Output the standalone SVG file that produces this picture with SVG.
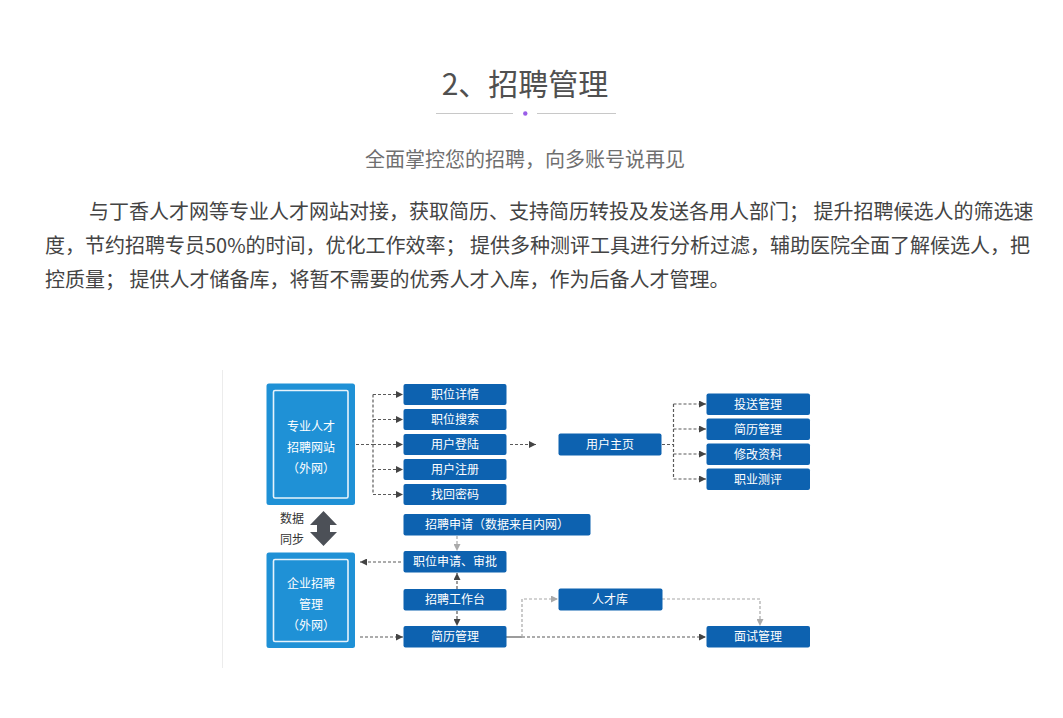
<svg xmlns="http://www.w3.org/2000/svg" width="1063" height="718" viewBox="0 0 1063 718">
<style>
.cjk{font-family:"Noto Sans CJK SC","Noto Sans",sans-serif}
.title{font-size:30px;fill:#505050}
.sub{font-size:20px;fill:#6f6f6f}
.para{font-size:20px;fill:#444444}
.box{fill:#0d62b0}
.big{fill:#1f91d6}
.inner{fill:none;stroke:#e6f3fc;stroke-width:1.6}
.bt{font-size:12px;fill:#ffffff;text-anchor:middle}
.lab{font-size:12px;fill:#333333}
.dk{fill:none;stroke:#5a5a5a;stroke-width:1.2;stroke-dasharray:3 2}
.lt{fill:none;stroke:#a8a8a8;stroke-width:1.2;stroke-dasharray:3 2}
</style>
<defs>
<marker id="ad" viewBox="0 0 8 8" refX="8" refY="4" markerWidth="7" markerHeight="7" markerUnits="userSpaceOnUse" orient="auto"><path d="M0,0 L8,4 L0,8 z" fill="#444"/></marker>
<marker id="al" viewBox="0 0 8 8" refX="8" refY="4" markerWidth="7" markerHeight="7" markerUnits="userSpaceOnUse" orient="auto"><path d="M0,0 L8,4 L0,8 z" fill="#aaa"/></marker>
</defs>
<rect width="1063" height="718" fill="#ffffff"/>

<g id="header">
<text class="cjk title" x="525" y="95" text-anchor="middle">2、招聘管理</text>
<line x1="436" y1="113.5" x2="513" y2="113.5" stroke="#c8c8c8" stroke-width="1"/>
<line x1="537" y1="113.5" x2="616" y2="113.5" stroke="#c8c8c8" stroke-width="1"/>
<circle cx="525.3" cy="113.5" r="2.2" fill="#9a5ee8"/>
<text class="cjk sub" x="525" y="167" text-anchor="middle">全面掌控您的招聘，向多账号说再见</text>
<text class="cjk para" x="89" y="218.5">与丁香人才网等专业人才网站对接，获取简历、支持简历转投及发送各用人部门； 提升招聘候选人的筛选速</text>
<text class="cjk para" x="45" y="252.5">度，节约招聘专员50%的时间，优化工作效率； 提供多种测评工具进行分析过滤，辅助医院全面了解候选人，把</text>
<text class="cjk para" x="45" y="286.5">控质量； 提供人才储备库，将暂不需要的优秀人才入库，作为后备人才管理。</text>
</g>

<line x1="222.5" y1="370" x2="222.5" y2="668" stroke="#ececec" stroke-width="1"/>

<g id="connectors">
<path class="dk" d="M356,444.5 H373"/>
<path class="dk" d="M373,394.5 V494.5"/>
<path class="dk" d="M373,394.5 H403" marker-end="url(#ad)"/>
<path class="dk" d="M373,419.5 H403" marker-end="url(#ad)"/>
<path class="dk" d="M373,444.5 H403" marker-end="url(#ad)"/>
<path class="dk" d="M373,469.5 H403" marker-end="url(#ad)"/>
<path class="dk" d="M373,494.5 H403" marker-end="url(#ad)"/>
<path class="dk" d="M510,444.5 H536" marker-end="url(#ad)"/>
<path class="dk" d="M662,444.5 H673.5"/>
<path class="dk" d="M673.5,404 V479"/>
<path class="dk" d="M673.5,404 H706" marker-end="url(#ad)"/>
<path class="dk" d="M673.5,429 H706" marker-end="url(#ad)"/>
<path class="dk" d="M673.5,454 H706" marker-end="url(#ad)"/>
<path class="dk" d="M673.5,479 H706" marker-end="url(#ad)"/>
<path class="lt" d="M457,536 V551" marker-end="url(#al)"/>
<path class="dk" d="M401,562 H360" marker-end="url(#ad)"/>
<path class="dk" d="M457,589 V573" marker-end="url(#ad)"/>
<path class="dk" d="M457,611 V626" marker-end="url(#ad)"/>
<path class="dk" d="M360,637 H403" marker-end="url(#ad)"/>
<path d="M506,637 H522" fill="none" stroke="#5a5a5a" stroke-width="1.2"/>
<path class="dk" d="M522,637 H706" marker-end="url(#ad)"/>
<path class="lt" d="M522,637 V599 H558" marker-end="url(#al)"/>
<path class="lt" d="M662,599 H760 V626" marker-end="url(#al)"/>
</g>

<g id="site">
<rect class="big" x="266.5" y="383.5" width="88.5" height="121.5" rx="2.5"/>
<rect class="inner" x="273.5" y="390.5" width="74.5" height="107.5" rx="1.5"/>
<text class="cjk bt" x="311" y="431">专业人才</text>
<text class="cjk bt" x="311" y="452">招聘网站</text>
<text class="cjk bt" x="311" y="473">（外网）</text>
</g>
<g id="ent">
<rect class="big" x="266.5" y="552.5" width="88.5" height="95.5" rx="2.5"/>
<rect class="inner" x="273.5" y="559.5" width="74.5" height="82" rx="1.5"/>
<text class="cjk bt" x="311" y="587.5">企业招聘</text>
<text class="cjk bt" x="311" y="608.5">管理</text>
<text class="cjk bt" x="311" y="629.5">（外网）</text>
</g>

<g id="sync">
<text class="cjk lab" x="280" y="522.5">数据</text>
<text class="cjk lab" x="280" y="543.5">同步</text>
<path d="M323.5,511 L337,525 L330,525 L330,532 L337,532 L323.5,546 L310,532 L317,532 L317,525 L310,525 z" fill="#4c5057"/>
</g>

<g id="n1"><rect class="box" x="403.5" y="384" width="103" height="21" rx="2"/><text class="cjk bt" x="455" y="398.8">职位详情</text></g>
<g id="n2"><rect class="box" x="403.5" y="409" width="103" height="21" rx="2"/><text class="cjk bt" x="455" y="423.8">职位搜索</text></g>
<g id="n3"><rect class="box" x="403.5" y="434" width="103" height="21" rx="2"/><text class="cjk bt" x="455" y="448.8">用户登陆</text></g>
<g id="n4"><rect class="box" x="403.5" y="459" width="103" height="21" rx="2"/><text class="cjk bt" x="455" y="473.8">用户注册</text></g>
<g id="n5"><rect class="box" x="403.5" y="484" width="103" height="21" rx="2"/><text class="cjk bt" x="455" y="498.8">找回密码</text></g>

<g id="home"><rect class="box" x="558.5" y="433.5" width="103" height="22" rx="2"/><text class="cjk bt" x="610" y="448.8">用户主页</text></g>
<g id="r1"><rect class="box" x="706.5" y="393.5" width="103.5" height="21.5" rx="2"/><text class="cjk bt" x="758" y="408.5">投送管理</text></g>
<g id="r2"><rect class="box" x="706.5" y="418.5" width="103.5" height="21.5" rx="2"/><text class="cjk bt" x="758" y="433.5">简历管理</text></g>
<g id="r3"><rect class="box" x="706.5" y="443.5" width="103.5" height="21.5" rx="2"/><text class="cjk bt" x="758" y="458.5">修改资料</text></g>
<g id="r4"><rect class="box" x="706.5" y="468.5" width="103.5" height="21.5" rx="2"/><text class="cjk bt" x="758" y="483.5">职业测评</text></g>

<g id="apply"><rect class="box" x="403.5" y="514" width="187" height="21.5" rx="2"/><text class="cjk bt" x="497" y="529">招聘申请（数据来自内网）</text></g>
<g id="approve"><rect class="box" x="403.5" y="551" width="103" height="21.5" rx="2"/><text class="cjk bt" x="455" y="566">职位申请、审批</text></g>
<g id="desk"><rect class="box" x="403.5" y="589" width="103" height="21.5" rx="2"/><text class="cjk bt" x="455" y="604">招聘工作台</text></g>
<g id="resume"><rect class="box" x="403.5" y="626" width="103" height="21.5" rx="2"/><text class="cjk bt" x="455" y="641">简历管理</text></g>
<g id="pool"><rect class="box" x="558.5" y="588.5" width="104" height="22" rx="2"/><text class="cjk bt" x="610" y="603.8">人才库</text></g>
<g id="interview"><rect class="box" x="706.5" y="626" width="103.5" height="21.5" rx="2"/><text class="cjk bt" x="758" y="641">面试管理</text></g>
</svg>
